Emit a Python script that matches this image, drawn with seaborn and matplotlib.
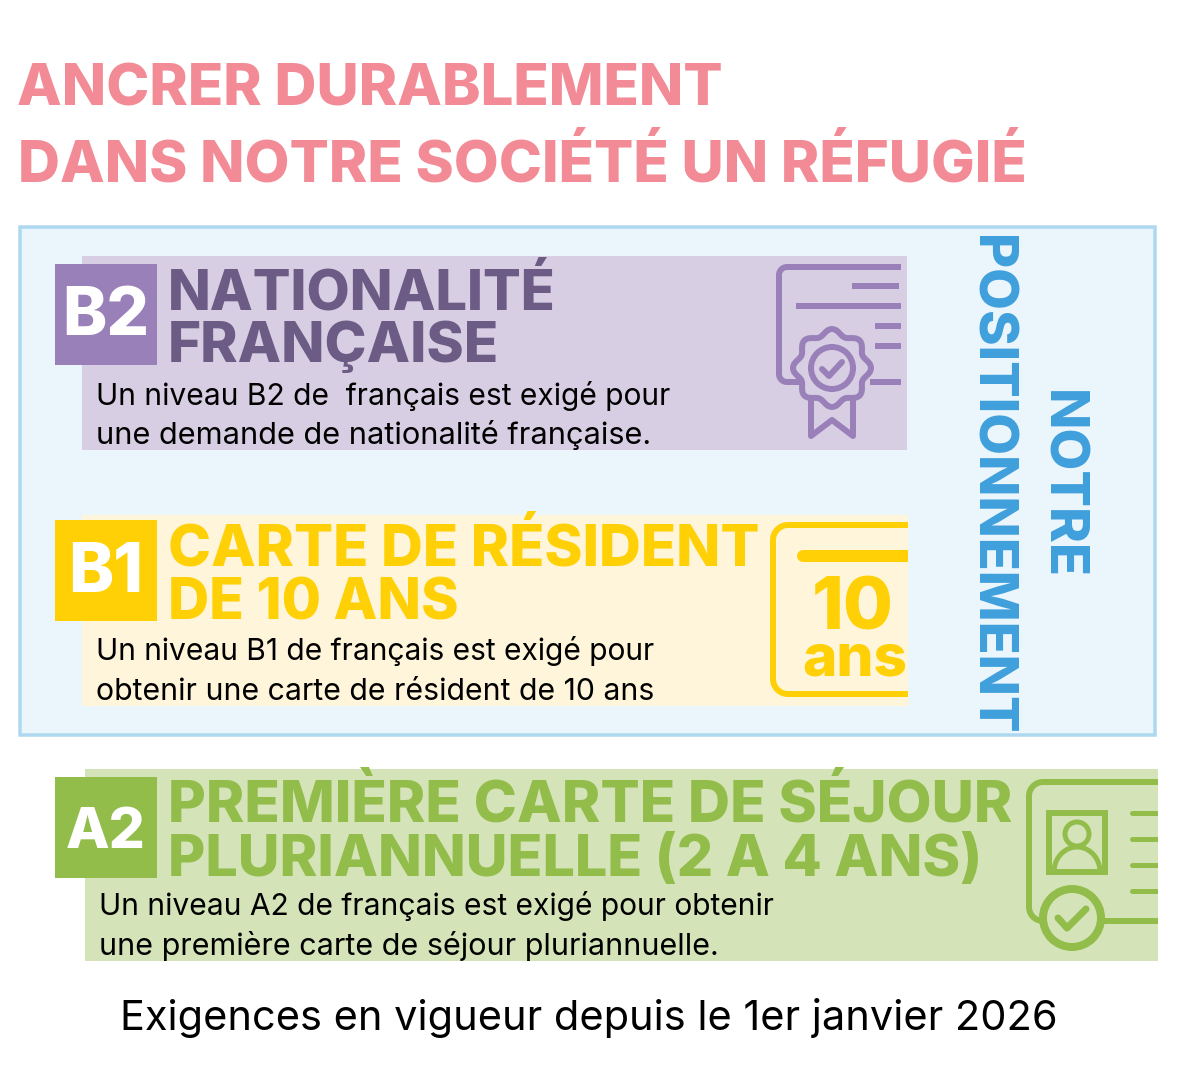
import numpy as np
import seaborn as sns
import matplotlib.pyplot as plt
from matplotlib.patches import Rectangle, Circle, Polygon

title_lines = ['ANCRER DURABLEMENT', 'DANS NOTRE SOCIÉTÉ UN RÉFUGIÉ']
levels = ['B2', 'B1', 'A2']
headings = [['NATIONALITÉ', 'FRANÇAISE'],
            ['CARTE DE RÉSIDENT', 'DE 10 ANS'],
            ['PREMIÈRE CARTE DE SÉJOUR', 'PLURIANNUELLE (2 A 4 ANS)']]
bodies = [['Un niveau B2 de  français est exigé pour', 'une demande de nationalité française.'],
          ['Un niveau B1 de français est exigé pour', 'obtenir une carte de résident de 10 ans'],
          ['Un niveau A2 de français est exigé pour obtenir', 'une première carte de séjour pluriannuelle.']]
side_labels = ['NOTRE', 'POSITIONNEMENT']
footer = 'Exigences en vigueur depuis le 1er janvier 2026'

PINK = '#F28B96'
BLUE = '#3FA0DC'
PURPLE, PURPLE_DK, PURPLE_BG = '#9A80B8', '#6B5B85', '#D7CEE3'
YELLOW, YELLOW_BG = '#FFD005', '#FEF5DA'
GREEN, GREEN_BG = '#92BD4B', '#D5E4B8'
HEAVY = 800

sns.set_theme(style='white')
plt.rcParams['font.family'] = ['Inter', 'DejaVu Sans']

fig, ax = plt.subplots(figsize=(11.79, 10.8), dpi=100)
ax.set_position([0, 0, 1, 1])
ax.set_xlim(0, 1179)
ax.set_ylim(1080, 0)
ax.axis('off')
sns.despine(ax=ax, left=True, bottom=True)
renderer = fig.canvas.get_renderer()


def px(w):
    return w * 0.72


def fit_text(s, x, y, width, color, weight=HEAVY, rotation=0, ha='left', va='baseline'):
    # start from a size, then scale it so the text spans the width seen in the reference
    t = ax.text(x, y, s, color=color, fontweight=weight, fontsize=30, rotation=rotation,
                ha=ha, va=va, rotation_mode='anchor', zorder=5)
    bb = t.get_window_extent(renderer)
    t.set_fontsize(30 * width / max(bb.width, bb.height))
    return t


def rect(x0, y0, x1, y1, color, z=1):
    ax.add_patch(Rectangle((x0, y0), x1 - x0, y1 - y0, facecolor=color, edgecolor='none', zorder=z))


def line(xs, ys, color, w, cap='butt', z=3):
    ax.plot(xs, ys, color=color, lw=px(w), solid_capstyle=cap, solid_joinstyle='round', zorder=z)


def corner_path(x_right, y_top, x_left, y_bottom, x_end, r):
    # open rounded frame: top edge, left edge, bottom edge
    a = np.linspace(0, np.pi / 2, 12)
    xs = [x_right] + list(x_left + r - r * np.sin(a)) + list(x_left + r - r * np.cos(a)) + [x_end]
    ys = [y_top] + list(y_top + r - r * np.cos(a)) + list(y_bottom - r + r * np.sin(a)) + [y_bottom]
    return xs, ys


# title
fit_text(title_lines[0], 17, 106, 707, PINK)
fit_text(title_lines[1], 18, 182, 1010, PINK)

# outer box
ax.add_patch(Rectangle((20, 227), 1135, 508, facecolor='#EBF5FC', edgecolor='#AED8F0', lw=px(3.5), zorder=0))

# bands and badges
rect(82, 256, 907, 450, PURPLE_BG)
rect(55, 264, 157, 365, PURPLE, z=2)
rect(82, 515, 908, 706, YELLOW_BG)
rect(55, 520, 157, 621, YELLOW, z=2)
rect(85, 769, 1158, 961, GREEN_BG)
rect(55, 777, 157, 878, GREEN, z=2)

fit_text(levels[0], 106, 335, 87, 'white', ha='center')
fit_text(levels[1], 106, 592, 75, 'white', ha='center')
fit_text(levels[2], 106, 848, 80, 'white', ha='center')

# headings
fit_text(headings[0][0], 168, 309, 389, PURPLE_DK)
fit_text(headings[0][1], 168, 362, 331, PURPLE_DK)
fit_text(headings[1][0], 168, 566, 592, YELLOW)
fit_text(headings[1][1], 168, 620, 291, YELLOW)
fit_text(headings[2][0], 168, 822, 846, GREEN)
fit_text(headings[2][1], 168, 876, 816, GREEN)

# descriptions
fit_text(bodies[0][0], 96, 405, 575, 'black', weight='normal')
fit_text(bodies[0][1], 96, 444, 556, 'black', weight='normal')
fit_text(bodies[1][0], 96, 660, 560, 'black', weight='normal')
fit_text(bodies[1][1], 96, 700, 558, 'black', weight='normal')
fit_text(bodies[2][0], 99, 915, 676, 'black', weight='normal')
fit_text(bodies[2][1], 99, 955, 620, 'black', weight='normal')

# vertical labels
fit_text(side_labels[0], 1046, 390, 189, BLUE, rotation=-90)
fit_text(side_labels[1], 975, 235, 501, BLUE, rotation=-90)

# footer
fit_text(footer, 120, 1030, 936, 'black', weight='normal')

# certificate icon
xs, ys = corner_path(901, 267, 779, 382, 805, 8)
line(xs, ys, PURPLE, 6)
line([870, 901], [382, 382], PURPLE, 6)
line([852, 899], [286, 286], PURPLE, 6)
line([796, 901], [306, 306], PURPLE, 6)
line([875, 901], [326, 326], PURPLE, 6)
line([875, 901], [346, 346], PURPLE, 6)
line([811, 811, 832, 853, 853], [395, 436, 420, 436, 395], PURPLE, 6, cap='round')
theta = np.linspace(0, 2 * np.pi, 200)
seal_r = 36 + 3 * np.cos(8 * (theta + np.pi / 2))
ax.add_patch(Polygon(np.c_[832 + seal_r * np.cos(theta), 368 + seal_r * np.sin(theta)], closed=True,
                     facecolor=PURPLE_BG, edgecolor=PURPLE, lw=px(6), zorder=3))
ax.add_patch(Circle((832, 368), 21, facecolor='none', edgecolor=PURPLE, lw=px(6), zorder=4))
line([822, 829, 842], [369, 376, 362], PURPLE, 6, cap='round', z=4)

# 10 ans icon
xs, ys = corner_path(908, 525, 773, 694, 908, 15)
line(xs, ys, YELLOW, 6)
line([803, 902], [556, 556], YELLOW, 12, cap='round')
rect(902, 550, 908, 562, YELLOW, z=3)
fit_text('10', 812, 629, 82, YELLOW)
fit_text('ans', 802, 676, 105, YELLOW)

# residence card icon
xs, ys = corner_path(1158, 782, 1029, 921, 1045, 14)
line(xs, ys, GREEN, 6)
line([1100, 1158], [921, 921], GREEN, 6)
ax.add_patch(Rectangle((1049, 813), 56, 59, facecolor='none', edgecolor=GREEN, lw=px(6), zorder=3))
ax.add_patch(Circle((1077, 834), 12, facecolor='none', edgecolor=GREEN, lw=px(5), zorder=3))
arc = np.linspace(np.pi, 2 * np.pi, 40)
line(1077 + 23 * np.cos(arc), 872 + 25 * np.sin(arc), GREEN, 5)
for yy in [813, 839, 865, 891]:
    line([1132, 1155], [yy, yy], GREEN, 5, cap='round')
    rect(1150, yy - 2.5, 1158, yy + 2.5, GREEN, z=3)
ax.add_patch(Circle((1072, 918), 29, facecolor=GREEN_BG, edgecolor=GREEN, lw=px(8), zorder=4))
line([1058, 1067, 1086], [918, 928, 909], GREEN, 7, cap='round', z=5)

fig.savefig('out.png', dpi=100, facecolor='white')
